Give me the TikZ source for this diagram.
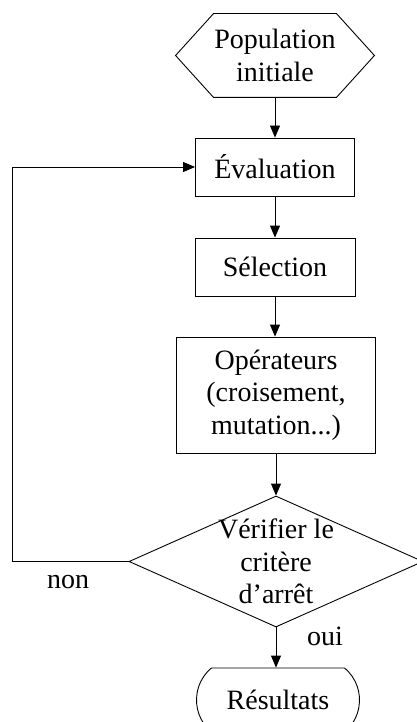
\documentclass[tikz,border=0pt]{standalone}
\usepackage{fontspec}
\setmainfont{Liberation Serif}
\usetikzlibrary{shapes.geometric,shapes.misc,arrows.meta}

\begin{document}
\begin{tikzpicture}[x=1pt, y=-1pt, line width=0.9pt,
  every node/.style={font=\fontsize{28}{32.5}\selectfont, align=center},
  box/.style={draw, rectangle, inner sep=0pt},
  flow/.style={-{Triangle[length=12pt,width=10pt]}}]
\useasboundingbox (0,0) rectangle (417,722);
\node[minimum width=122, minimum height=83, inner sep=0pt] (pop) at (275,55.5) {Population\\initiale};
\draw (pop.north west) -- (pop.north east) -- ([xshift=38pt]pop.east) -- (pop.south east) -- (pop.south west) -- ([xshift=-38pt]pop.west) -- cycle;
\node[box, minimum width=159, minimum height=58] (eval) at (275,167) {Évaluation};
\node[box, minimum width=160, minimum height=58] (sel) at (275,267) {Sélection};
\node[box, minimum width=199, minimum height=116] (ops) at (276,395) {Opérateurs\\(croisement,\\mutation...)};
\node[draw, diamond, minimum width=294, minimum height=131, inner sep=0pt] (chk) at (276,561.5) {};
\node (chktxt) at (chk.center) {Vérifier le\\critère\\d'arrêt};
\node[draw, rounded rectangle, rounded rectangle arc length=100, minimum width=163, minimum height=64, inner sep=0pt] (res) at (278,700) {Résultats};
\coordinate (back) at (12,561.5);
\node (non) at (68,582) {non};
\node (oui) at (325,636) {oui};
\draw[flow] (pop) -- (eval);
\draw[flow] (eval) -- (sel);
\draw[flow] (sel.south) -- (sel.south |- ops.north);
\draw[flow] (ops) -- (chk);
\draw[flow] (chk.south) -- (chk.south |- res.north);
\draw[flow] (chk.west) -- (back) |- (eval.west);
\end{tikzpicture}
\end{document}
